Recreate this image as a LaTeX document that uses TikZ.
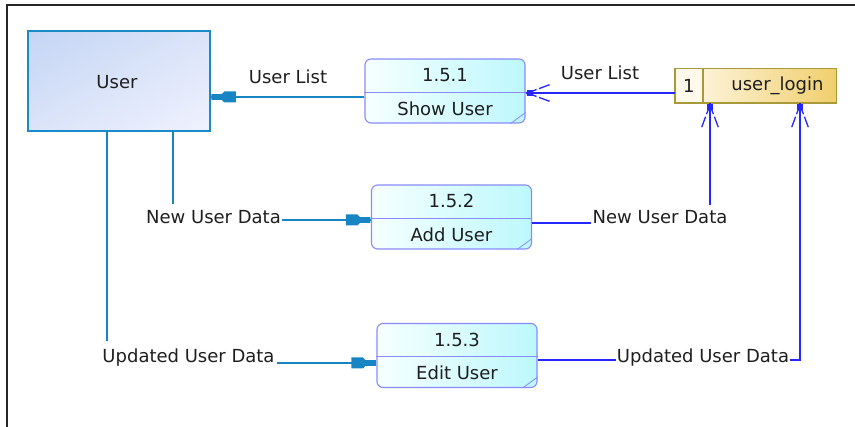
\documentclass[tikz,border=0pt]{standalone}
\usepackage{fontspec}
\setmainfont{DejaVu Sans}
\usetikzlibrary{calc,shadings}

\definecolor{userline}{HTML}{1A8AC8}
\definecolor{userfillA}{HTML}{C4D5F4}
\definecolor{userfillB}{HTML}{F0F2FE}
\definecolor{procline}{HTML}{8A8AFF}
\definecolor{procfillA}{HTML}{F6FFFF}
\definecolor{procfillB}{HTML}{BDF8FC}
\definecolor{storeline}{HTML}{A89A38}
\definecolor{storefillA}{HTML}{FFF9EC}
\definecolor{storefillB}{HTML}{F0CF6C}
\definecolor{flowblue}{HTML}{2626FF}
\definecolor{flowteal}{HTML}{1784C4}
\definecolor{txt}{HTML}{1E1E1E}

\tikzset{
  lbl/.style={font=\fontsize{18}{21}\selectfont, text=txt, inner sep=0pt},
  userbox/.style={draw=userline, line width=1.6pt, minimum width=182pt, minimum height=100pt,
    upper left=userfillA, lower right=userfillB, upper right=userfillA!50!userfillB,
    lower left=userfillA!50!userfillB},
  procbox/.style={draw=procline, line width=1.1pt, rounded corners=6pt,
    minimum width=160pt, minimum height=64pt, left color=procfillA, right color=procfillB},
  storebox/.style={minimum width=161pt, minimum height=34pt, inner sep=0pt,
    left color=storefillA, middle color=storefillA!60!storefillB, right color=storefillB},
  uflow/.style={color=flowteal, line width=1.8pt},
  sflow/.style={color=flowblue, line width=1.8pt},
  % filled head: tip at the origin, shaft along +x
  solidhead/.pic={
    \fill (0.5pt,-2.8pt) -- (11pt,-2.8pt) -- (13.5pt,-5.5pt) -- (25pt,-5.5pt)
       -- (25pt,5.5pt) -- (13.5pt,5.5pt) -- (11pt,2.8pt) -- (0.5pt,2.8pt) -- cycle;
  },
  % crow's foot: tip at the origin, shaft along +x; each outer prong is broken once
  crowfoot/.pic={
    \fill (1pt,-3pt) rectangle (7pt,3pt);
    \draw[line width=1.3pt] (6pt,-1.5pt) -- (11pt,-3.5pt);
    \draw[line width=1.3pt] (13.5pt,-4.4pt) -- (24pt,-8.3pt);
    \draw[line width=1.3pt] (6pt,1.5pt) -- (11pt,3.5pt);
    \draw[line width=1.3pt] (13.5pt,4.4pt) -- (24pt,8.3pt);
  }
}

% process box: name, centre, number, title
\newcommand\procnode[4]{%
  \node[procbox] (#1) at (#2) {};
  \draw[procline, line width=1.1pt] ([yshift=-34pt]#1.north west) -- ([yshift=-34pt]#1.north east);
  \draw[procline, line width=0.8pt] ([yshift=11pt]#1.south east) -- ([xshift=-15pt]#1.south east);
  \node[lbl] (#1-id) at ([yshift=-17pt]#1.north) {#3};
  \node[lbl] (#1-name) at ([yshift=15pt]#1.south) {#4};
}

\begin{document}
\begin{tikzpicture}[x=1pt, y=-1pt]
\useasboundingbox (0,0) rectangle (855,427);

% outer frame (top and left edges)
\coordinate (frame-bl) at (7,427);
\coordinate (frame-tl) at (7,5);
\coordinate (frame-tr) at (855,5);
\draw[line width=2pt, black!85] (frame-bl) -- (frame-tl) -- (frame-tr);

% external entity
\node[userbox] (user) at (119,81) {};
\node[lbl] (user-name) at (117,82) {User};

% processes
\procnode{show}{445,91}{1.5.1}{Show User}
\procnode{add}{451.5,217}{1.5.2}{Add User}
\procnode{edit}{457,355.5}{1.5.3}{Edit User}

% data store
\node[storebox] (store) at (755.5,86) {};
\fill[storefillA] (store.north west) rectangle ([xshift=28pt]store.south west);
\draw[storeline, line width=1.4pt] (store.north west) rectangle (store.south east);
\draw[storeline, line width=1.4pt] ([xshift=28pt]store.north west) -- ([xshift=28pt]store.south west);
\node[lbl] (store-id) at ([xshift=14pt]store.west) {1};
\node[lbl] (store-name) at ([xshift=22pt]store.center) {user\_login};

% flow labels
\node[lbl] (ul-lbl) at (288,77) {User List};
\node[lbl] (sl-lbl) at (600,73) {User List};
\node[lbl] (nud-lbl) at (213.5,217.5) {New User Data};
\node[lbl] (nud2-lbl) at (660,217.5) {New User Data};
\node[lbl] (uud-lbl) at (188.5,358) {Updated User Data};
\node[lbl] (uud2-lbl) at (703,358) {Updated User Data};

% Show User -> User
\coordinate (ul-tip) at ([yshift=-6pt]show.west -| user.east);
\draw[uflow] ([yshift=-6pt]show.west) -- (ul-tip);
\pic[uflow] at (ul-tip) {solidhead};

% user_login -> Show User
\coordinate (sl-tip) at ([yshift=-7pt]store.west -| show.east);
\draw[sflow] ([yshift=-7pt]store.west) -- (sl-tip);
\pic[sflow] at (sl-tip) {crowfoot};

% User -> Add User
\coordinate (nud-tip) at ([yshift=-3pt]add.west);
\draw[uflow] ([xshift=-40.5pt]nud-lbl.north |- user.south) -- ([xshift=-40.5pt,yshift=7pt]nud-lbl.north);
\draw[uflow] ([xshift=1pt]nud-lbl.east |- nud-tip) -- (nud-tip);
\pic[uflow, rotate=180] at (nud-tip) {solidhead};

% Add User -> user_login
\coordinate (nud2-start) at ([yshift=-6pt]add.east);
\coordinate (nud2-tip) at ([xshift=-45.5pt]store.south);
\draw[sflow] (nud2-start) -- ([xshift=-1pt]nud2-start -| nud2-lbl.west);
\draw[sflow] ([yshift=6pt]nud2-lbl.north -| nud2-tip) -- (nud2-tip);
\pic[sflow, rotate=-90] at (nud2-tip) {crowfoot};

% User -> Edit User
\coordinate (uud-tip) at ([yshift=-7.5pt]edit.west);
\draw[uflow] ([xshift=-81.5pt]uud-lbl.north |- user.south) -- ([xshift=-81.5pt,yshift=8pt]uud-lbl.north);
\draw[uflow] ([xshift=2pt]uud-lbl.east |- uud-tip) -- (uud-tip);
\pic[uflow, rotate=180] at (uud-tip) {solidhead};

% Edit User -> user_login
\coordinate (uud2-start) at ([yshift=-4.5pt]edit.east);
\coordinate (uud2-tip) at ([xshift=44.5pt]store.south);
\draw[sflow] (uud2-start) -- ([xshift=-1pt]uud2-start -| uud2-lbl.west);
\draw[sflow] ([xshift=1pt]uud2-lbl.east |- uud2-start) -- (uud2-tip |- uud2-start) -- (uud2-tip);
\pic[sflow, rotate=-90] at (uud2-tip) {crowfoot};
\end{tikzpicture}
\end{document}
